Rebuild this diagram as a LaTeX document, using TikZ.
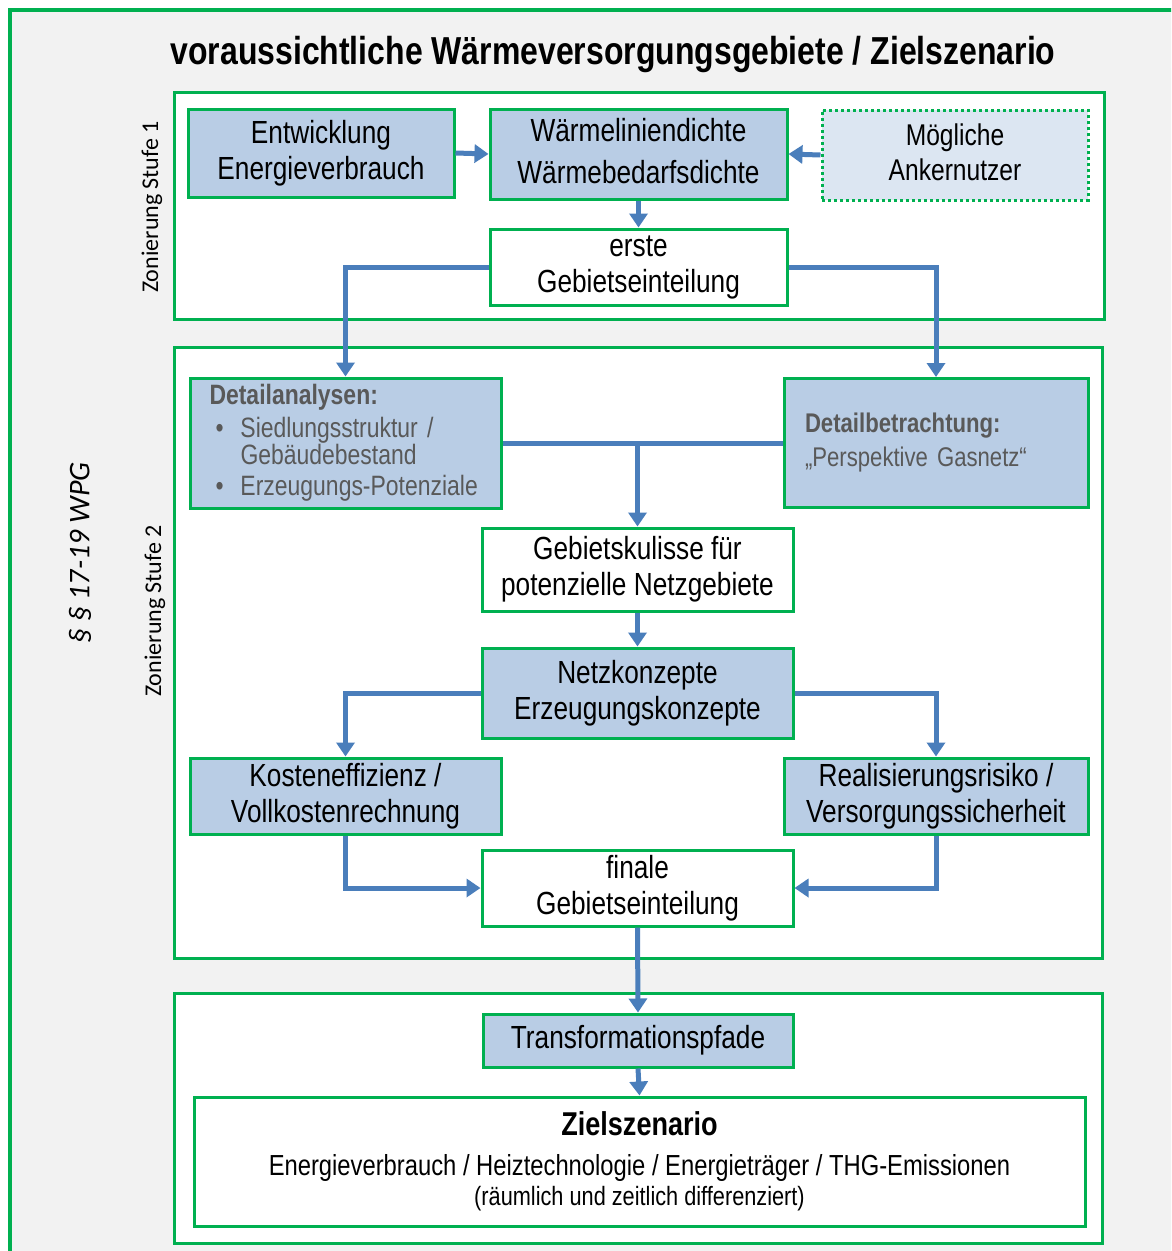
\documentclass[tikz,border=0pt]{standalone}
\usepackage{fontspec}
\setmainfont{Liberation Sans}[FakeStretch=0.82]
\newfontfamily\calfont{Carlito}
\usetikzlibrary{arrows.meta}
\definecolor{grn}{HTML}{00B050}
\definecolor{bfill}{HTML}{B9CDE5}
\definecolor{lfill}{HTML}{DCE6F2}
\definecolor{arr}{HTML}{4A7EBB}
\definecolor{bg}{HTML}{F2F2F2}
\definecolor{gtext}{HTML}{595959}
\begin{document}
\begin{tikzpicture}[x=1pt,y=-1pt,
  stage/.style={draw=grn,line width=3pt,fill=white,rectangle,inner sep=0pt},
  box/.style={draw=grn,line width=3pt,rectangle,inner sep=0pt,align=center,
    font=\fontsize{32}{36}\selectfont},
  bluebox/.style={box,fill=bfill},
  whitebox/.style={box,fill=white},
  flow/.style={draw=arr,line width=5pt,-{Triangle[width=18pt,length=14pt]}},
  link/.style={draw=arr,line width=5pt},
  rotlabel/.style={rotate=90,font=\calfont\fontsize{24}{26}\selectfont}
]
\clip (0,0) rectangle (1171,1251);
\fill[white] (0,0) rectangle (1171,1251);
\draw[grn,line width=4pt,fill=bg] (10,10) rectangle (1200,1280);

\node (title) at (613,54) {\fontsize{39}{44}\selectfont\bfseries voraussichtliche Wärmeversorgungsgebiete / Zielszenario};

% stage frames
\node[stage,minimum width=930pt,minimum height=227pt] (s1) at (639,205.5) {};
\node[stage,minimum width=928pt,minimum height=611pt] (s2) at (638,652.5) {};
\node[stage,minimum width=928pt,minimum height=250pt] (s3) at (638,1118) {};

% side labels
\node[rotlabel] (z1) at (152,207) {Zonierung Stufe 1};
\node[rotlabel] (z2) at (155,611) {Zonierung Stufe 2};
\node[rotate=90,font=\calfont\itshape\fontsize{30}{34}\selectfont] (wpg) at (80,553) {§ § 17-19 WPG};

% stage 1
\node[bluebox,minimum width=266pt,minimum height=88pt] (ew) at (321,153) {Entwicklung\\Energieverbrauch};
\node[bluebox,minimum width=297pt,minimum height=90pt,font=\fontsize{32}{42}\selectfont] (wd) at (638.5,154) {\raisebox{6pt}{Wärmeliniendichte}\\\raisebox{6pt}{Wärmebedarfsdichte}};
\node[box,fill=lfill,dash pattern=on 3pt off 3pt,minimum width=266pt,minimum height=90pt,font=\fontsize{30}{35}\selectfont] (ma) at (955,155) {\raisebox{6pt}{Mögliche}\\\raisebox{6pt}{Ankernutzer}};
\node[whitebox,minimum width=297pt,minimum height=76pt] (er) at (638.5,267) {\raisebox{2pt}{erste}\\\raisebox{2pt}{Gebietseinteilung}};

% stage 2
\node[bluebox,minimum width=311pt,minimum height=130pt,text width=272pt,align=left,
  text=gtext,font=\fontsize{28}{26}\selectfont] (da) at (345.5,443) {%
  \raisebox{2pt}{\textbf{Detailanalysen:}}\\[5pt]
  \makebox[31pt][l]{\hspace{6pt}•}Siedlungsstruktur /\\
  \hspace*{31pt}Gebäudebestand\\[5pt]
  \makebox[31pt][l]{\hspace{6pt}•}Erzeugungs-Potenziale};
\node[bluebox,minimum width=304pt,minimum height=129pt,text width=262pt,align=left,
  text=gtext,font=\fontsize{27}{30}\selectfont] (db) at (936,443) {%
  \raisebox{2pt}{\textbf{Detailbetrachtung:}}\\[4pt]
  \raisebox{2pt}{„Perspektive Gasnetz“}};
\node[whitebox,minimum width=311pt,minimum height=83pt] (gk) at (637.5,569.5) {Gebietskulisse für\\potenzielle Netzgebiete};
\node[bluebox,minimum width=311pt,minimum height=90pt] (nk) at (637.5,693) {Netzkonzepte\\Erzeugungskonzepte};
\node[bluebox,minimum width=311pt,minimum height=76pt] (ko) at (345.5,796) {\raisebox{2pt}{Kosteneffizienz /}\\\raisebox{2pt}{Vollkostenrechnung}};
\node[bluebox,minimum width=304pt,minimum height=76pt] (re) at (936,796) {\raisebox{2pt}{Realisierungsrisiko /}\\\raisebox{2pt}{Versorgungssicherheit}};
\node[whitebox,minimum width=311pt,minimum height=76pt] (fi) at (637.5,888) {finale\\Gebietseinteilung};

% stage 3
\node[bluebox,minimum width=310pt,minimum height=53pt] (tr) at (638,1040.5) {Transformationspfade};
\node[whitebox,minimum width=891pt,minimum height=129pt,font=\fontsize{29}{30}\selectfont] (zs) at (639.5,1161.5) {%
  \raisebox{-4pt}{\bfseries\fontsize{33}{36}\selectfont Zielszenario}\\[10pt]
  \raisebox{-4pt}{Energieverbrauch / Heiztechnologie / Energieträger / THG-Emissionen}\\[0pt]
  \raisebox{-4pt}{\fontsize{26.5}{28}\selectfont (räumlich und zeitlich differenziert)}};

% connectors
\draw[flow] (ew.east) -- (wd.west);
\draw[flow] (ma.west) -- (wd.east);
\draw[flow] (wd.south) -- (er.north);
\draw[flow] (er.west) -| (da.north);
\draw[flow] (er.east) -| (db.north);
\draw[link] (da.east) -- (db.west);
\coordinate (j) at (da.east -| gk.north);
\draw[flow] (j) -- (gk.north);
\draw[flow] (gk.south) -- (nk.north);
\draw[flow] (nk.west) -| (ko.north);
\draw[flow] (nk.east) -| (re.north);
\draw[flow] (ko.south) |- (fi.west);
\draw[flow] (re.south) |- (fi.east);
\draw[flow] (fi.south) -- (tr.north);
\draw[flow] (tr.south) -- (zs.north);
\end{tikzpicture}
\end{document}
